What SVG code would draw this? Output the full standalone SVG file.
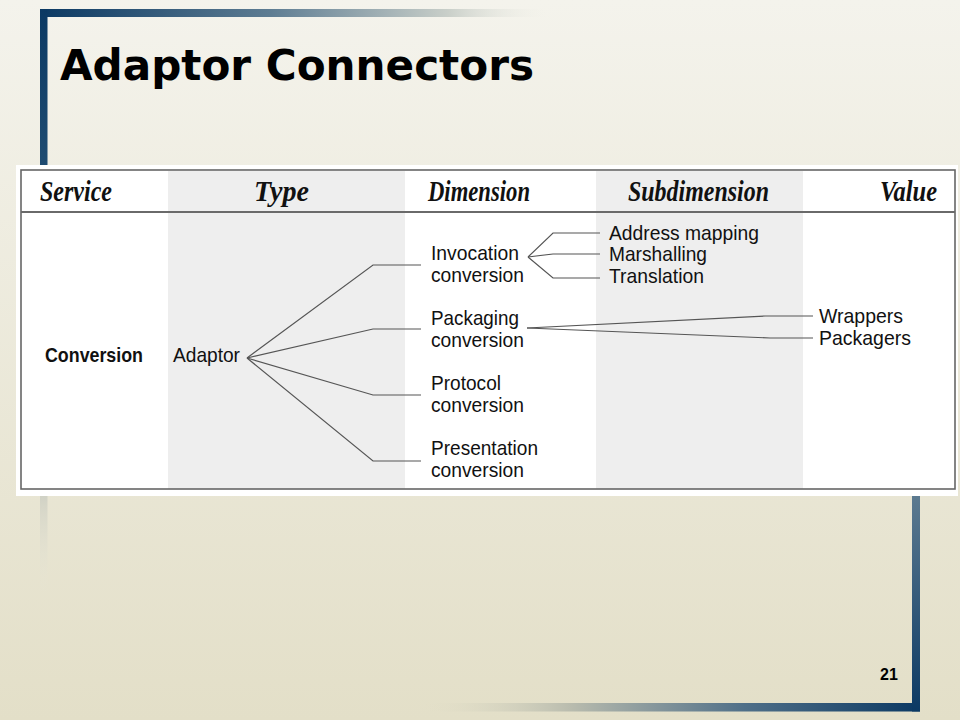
<svg xmlns="http://www.w3.org/2000/svg" width="960" height="720" viewBox="0 0 960 720">
<defs>
<linearGradient id="bg" x1="0" y1="0" x2="0" y2="1">
<stop offset="0" stop-color="#f4f3ec"/>
<stop offset="1" stop-color="#e3dfc8"/>
</linearGradient>
<linearGradient id="topbar" x1="0" y1="0" x2="1" y2="0">
<stop offset="0" stop-color="#0b3963"/>
<stop offset="0.45" stop-color="#5d7c92"/>
<stop offset="0.8" stop-color="#c9cfc9"/>
<stop offset="1" stop-color="#f3f2ea" stop-opacity="0"/>
</linearGradient>
<linearGradient id="leftbar" x1="0" y1="0" x2="0" y2="1">
<stop offset="0" stop-color="#0b3963"/>
<stop offset="0.27" stop-color="#1f4c72"/>
<stop offset="0.85" stop-color="#d6d6c8"/>
<stop offset="1" stop-color="#e8e6d6" stop-opacity="0"/>
</linearGradient>
<linearGradient id="botbar" x1="0" y1="0" x2="1" y2="0">
<stop offset="0" stop-color="#e3dfc8" stop-opacity="0"/>
<stop offset="0.3" stop-color="#b9bcae"/>
<stop offset="0.65" stop-color="#4f6f88"/>
<stop offset="1" stop-color="#0b3963"/>
</linearGradient>
<linearGradient id="rightbar" x1="0" y1="0" x2="0" y2="1">
<stop offset="0" stop-color="#5c7a90"/>
<stop offset="1" stop-color="#0b3963"/>
</linearGradient>
<style>
.hdr{font-family:"Liberation Serif","Times New Roman",serif;font-weight:bold;font-style:italic;font-size:29px;fill:#111}
.lbl{font-family:"Liberation Sans",Arial,sans-serif;font-size:21px;fill:#111}
.bold{font-weight:bold}
.con{fill:none;stroke:#555;stroke-width:1.2}
</style>
</defs>
<rect x="0" y="0" width="960" height="720" fill="url(#bg)"/>
<g id="frame">
<rect x="40" y="9" width="510" height="8" fill="url(#topbar)"/>
<rect x="40" y="9" width="7.5" height="585" fill="url(#leftbar)"/>
<rect x="420" y="703" width="500" height="8.5" fill="url(#botbar)"/>
<rect x="912" y="496" width="8" height="215.5" fill="url(#rightbar)"/>
</g>
<text id="title" x="60" y="80" font-family="'DejaVu Sans',Verdana,sans-serif" font-weight="bold" font-size="42" fill="#000" textLength="474" lengthAdjust="spacingAndGlyphs">Adaptor Connectors</text>
<g id="table">
<rect x="16" y="165" width="942" height="331" fill="#ffffff"/>
<rect x="168" y="171" width="237" height="318" fill="#eeeeee"/>
<rect x="596" y="171" width="207" height="318" fill="#eeeeee"/>
<rect x="21" y="170" width="934" height="319" fill="none" stroke="#666" stroke-width="1.6"/>
<line x1="21" y1="212" x2="955" y2="212" stroke="#6a6a6a" stroke-width="2"/>
</g>
<g id="headers">
<text class="hdr" x="40" y="201" textLength="72" lengthAdjust="spacingAndGlyphs">Service</text>
<text class="hdr" x="254" y="201" textLength="55" lengthAdjust="spacingAndGlyphs">Type</text>
<text class="hdr" x="428" y="201" textLength="102" lengthAdjust="spacingAndGlyphs">Dimension</text>
<text class="hdr" x="628" y="201" textLength="141" lengthAdjust="spacingAndGlyphs">Subdimension</text>
<text class="hdr" x="880" y="201" textLength="57" lengthAdjust="spacingAndGlyphs">Value</text>
</g>
<g id="connectors">
<polyline class="con" points="247,358 373,265 421,265"/>
<polyline class="con" points="247,358 373,329 421,329"/>
<polyline class="con" points="247,358 373,395 421,395"/>
<polyline class="con" points="247,358 373,461 421,461"/>
<polyline class="con" points="528,257 553,233 600,233"/>
<polyline class="con" points="528,257 553,254 600,254"/>
<polyline class="con" points="528,257 553,278 600,278"/>
<polyline class="con" points="527,328 765,316 813,316"/>
<polyline class="con" points="527,328 770,338 813,338"/>
</g>
<g id="node-conversion"><text class="lbl bold" x="45" y="362" textLength="98" lengthAdjust="spacingAndGlyphs">Conversion</text></g>
<g id="node-adaptor"><text class="lbl" x="173" y="362" textLength="67" lengthAdjust="spacingAndGlyphs">Adaptor</text></g>
<g id="node-invocation">
<text class="lbl" x="431" y="260" textLength="88" lengthAdjust="spacingAndGlyphs">Invocation</text>
<text class="lbl" x="431" y="282" textLength="93" lengthAdjust="spacingAndGlyphs">conversion</text>
</g>
<g id="node-packaging">
<text class="lbl" x="431" y="325" textLength="88" lengthAdjust="spacingAndGlyphs">Packaging</text>
<text class="lbl" x="431" y="347" textLength="93" lengthAdjust="spacingAndGlyphs">conversion</text>
</g>
<g id="node-protocol">
<text class="lbl" x="431" y="390" textLength="70" lengthAdjust="spacingAndGlyphs">Protocol</text>
<text class="lbl" x="431" y="412" textLength="93" lengthAdjust="spacingAndGlyphs">conversion</text>
</g>
<g id="node-presentation">
<text class="lbl" x="431" y="455" textLength="107" lengthAdjust="spacingAndGlyphs">Presentation</text>
<text class="lbl" x="431" y="477" textLength="93" lengthAdjust="spacingAndGlyphs">conversion</text>
</g>
<g id="node-address"><text class="lbl" x="609" y="240" textLength="150" lengthAdjust="spacingAndGlyphs">Address mapping</text></g>
<g id="node-marshalling"><text class="lbl" x="609" y="261" textLength="98" lengthAdjust="spacingAndGlyphs">Marshalling</text></g>
<g id="node-translation"><text class="lbl" x="609" y="283" textLength="95" lengthAdjust="spacingAndGlyphs">Translation</text></g>
<g id="node-wrappers"><text class="lbl" x="819" y="323" textLength="84" lengthAdjust="spacingAndGlyphs">Wrappers</text></g>
<g id="node-packagers"><text class="lbl" x="819" y="345" textLength="92" lengthAdjust="spacingAndGlyphs">Packagers</text></g>
<text id="page" x="880" y="680" font-family="'Liberation Sans',Arial,sans-serif" font-weight="bold" font-size="16" fill="#000">21</text>
</svg>
